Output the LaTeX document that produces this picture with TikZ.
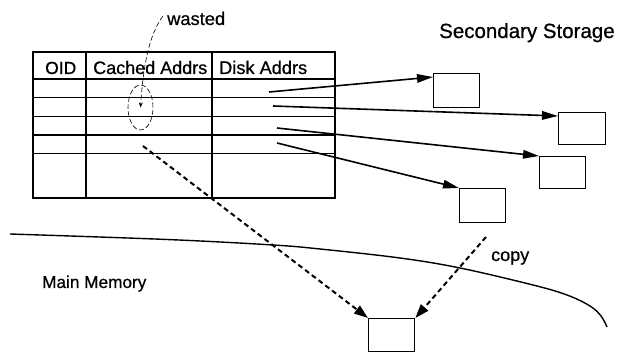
\documentclass[tikz,border=0pt]{standalone}
\usepackage{fontspec}
\setmainfont{Liberation Sans}[FakeBold=0.7]
\usetikzlibrary{arrows.meta,shapes.geometric}
\begin{document}
\begin{tikzpicture}[x=1pt,y=-1pt,
  rule/.style={line width=1.5pt},
  blockbox/.style={draw, line width=1.4pt, inner sep=0pt, anchor=north west},
  lbl/.style={anchor=base west, inner sep=0pt},
  ptr/.style={line width=1.6pt, -{Triangle[length=16pt,width=8.5pt]}},
  copyptr/.style={line width=2pt, dash pattern=on 5pt off 3.5pt,
    -{Triangle[length=14pt,width=9.5pt]}},
  note/.style={line width=0.6pt, dash pattern=on 5pt off 2.5pt}
]
\useasboundingbox (0,0) rectangle (621,352);

% object table
\draw[rule] (33,52) rectangle (335,198);
\foreach \y in {79,97.7,116.5,135,153.3} \draw[rule] (33,\y) -- (335,\y);
\draw[rule] (86,52) -- (86,198);
\draw[rule] (212,52) -- (212,198);

\node[lbl] (hoid) at (45,74) {\fontsize{17.5}{20}\selectfont OID};
\node[lbl] (hcache) at (93,74) {\fontsize{18}{20}\selectfont Cached Addrs};
\node[lbl] (hdisk) at (219,74) {\fontsize{18.2}{20}\selectfont Disk Addrs};

% labels
\node[lbl] (sec) at (439,38) {\fontsize{20.5}{24}\selectfont Secondary Storage};
\node[lbl] (mainmem) at (42,288) {\fontsize{17.2}{20}\selectfont Main Memory};
\node[lbl] (copy) at (491,261) {\fontsize{18}{20}\selectfont copy};
\node[lbl] (wasted) at (167,25) {\fontsize{18.3}{20}\selectfont wasted};

% disk blocks
\node[blockbox, minimum width=46pt, minimum height=34pt] (b1) at (433,73) {};
\node[blockbox, minimum width=47pt, minimum height=32pt] (b2) at (558,112) {};
\node[blockbox, minimum width=46pt, minimum height=32pt] (b3) at (539,156) {};
\node[blockbox, minimum width=46pt, minimum height=34pt] (b4) at (459,188) {};

% block in main memory
\node[blockbox, minimum width=46pt, minimum height=33pt] (mm) at (368,318) {};

% boundary between main memory and secondary storage
\draw[line width=1.4pt] plot[smooth, tension=0.6] coordinates {
  (10,234) (167,239.5) (273,245) (320,249) (400,258) (460,268)
  (533,285) (567,295) (590,306) (601,316) (607,327)};

% disk address pointers
\coordinate (s1) at (269,92);
\coordinate (s2) at (273,106);
\coordinate (s3) at (277,128);
\coordinate (s4) at (277,143);
\draw[ptr] (s1) -- ([yshift=-4pt]b1.north west);
\draw[ptr] (s2) -- ([yshift=-4pt]b2.north west);
\draw[ptr] (s3) -- (b3.north west);
\draw[ptr] (s4) -- (b4.north west);

% cached address and copy
\coordinate (c1) at (143,146);
\coordinate (c2) at (486,237);
\draw[copyptr] (c1) -- (mm.north west);
\draw[copyptr] (c2) -- (mm.north east);

% wasted slot annotation
\node[ellipse, draw, note, minimum width=25pt, minimum height=45pt, inner sep=0pt]
  (oval) at (140.5,107.5) {};
\coordinate (w0) at (163,16);
\draw[note, -{Stealth[length=5pt,width=4pt]}]
  (w0) .. controls (148,36) and (143,70) .. (oval.center);
\end{tikzpicture}
\end{document}
